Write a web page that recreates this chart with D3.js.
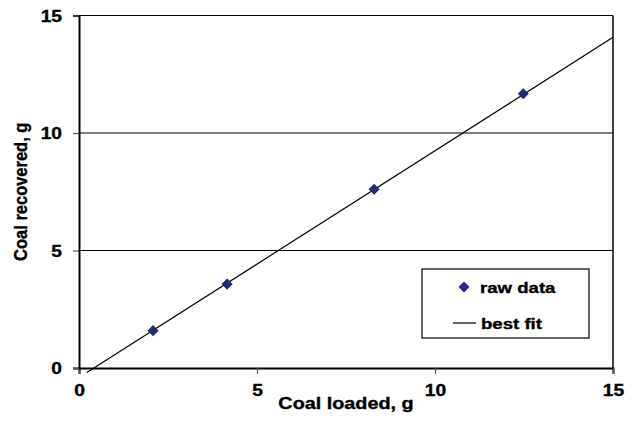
<!DOCTYPE html>
<html lang="en">
    <head>
        <meta charset="utf-8">
        <title>Coal recovered vs loaded</title>
        <script type="text/javascript" src="https://d3js.org/d3.v7.min.js"></script>
        <style type="text/css">
            body { margin: 0; background: #fff; }
            text { font-family: "Liberation Sans", Arial, sans-serif; font-weight: bold; fill: #000;
                   stroke: #000; stroke-width: 0.35px; }
        </style>
    </head>
    <body>
        <script type="text/javascript">

            // raw data points
            var loaded    = [2.08, 4.16, 8.29, 12.48];
            var recovered = [1.59, 3.57, 7.61, 11.67];

            // best fit line end points
            var fitX = [0.22, 15];
            var fitY = [-0.19, 14.07];

            var xTicks = [0, 5, 10, 15];
            var yTicks = [0, 5, 10, 15];

            var w = 637, h = 432;
            var mLeft = 79, mRight = 613, mTop = 15.5, mBottom = 368;
            var stretch = 1.2; // the original text looks wider than normal

            var svg = d3.select("body").append("svg")
                .attr("width", w)
                .attr("height", h);

            var xScale = d3.scaleLinear().domain([0, 15]).range([mLeft, mRight]);
            var yScale = d3.scaleLinear().domain([0, 15]).range([mBottom, mTop]);

            // gridlines (top one doubles as border)
            svg.selectAll("line.grid")
                .data(yTicks.filter(function(d){ return d > 0; }))
                .enter()
                .append("line")
                .attr("class", "grid")
                .attr("x1", mLeft).attr("x2", mRight)
                .attr("y1", function(d){ return yScale(d); })
                .attr("y2", function(d){ return yScale(d); })
                .attr("stroke", "#000")
                .attr("stroke-width", 1.2);

            // right border
            svg.append("line")
                .attr("x1", mRight).attr("x2", mRight)
                .attr("y1", mTop).attr("y2", mBottom)
                .attr("stroke", "#000").attr("stroke-width", 1.5);

            // axes
            var xAxis = d3.axisBottom(xScale).tickValues(xTicks).tickSize(6).tickPadding(11);
            var yAxis = d3.axisLeft(yScale).tickValues(yTicks).tickSize(6);

            var gx = svg.append("g")
                .attr("class", "x axis")
                .attr("transform", "translate(0," + mBottom + ")")
                .call(xAxis);
            var gy = svg.append("g")
                .attr("class", "y axis")
                .attr("transform", "translate(" + mLeft + ",0)")
                .call(yAxis);

            [gx, gy].forEach(function(g){
                g.attr("font-size", null).attr("font-family", null);
                g.select(".domain").attr("stroke", "#000").attr("stroke-width", 2);
                g.selectAll(".tick line").attr("stroke", "#555").attr("stroke-width", 1.2);
                g.selectAll(".tick text")
                    .attr("font-size", 16)
                    .attr("fill", "#000")
                    .attr("transform", "scale(" + stretch + ",1)");
            });
            gy.selectAll(".tick text").attr("x", -17 / stretch).attr("dy", "0.36em");

            // best fit line
            var line = d3.line()
                .x(function(d){ return xScale(d[0]); })
                .y(function(d){ return yScale(d[1]); });
            svg.append("path")
                .datum(d3.zip(fitX, fitY))
                .attr("d", line)
                .attr("fill", "none")
                .attr("stroke", "#000")
                .attr("stroke-width", 1.2);

            // raw data diamonds
            var diamond = d3.symbol().type(d3.symbolDiamond2).size(78);
            svg.selectAll("path.pt")
                .data(d3.zip(loaded, recovered))
                .enter()
                .append("path")
                .attr("class", "pt")
                .attr("d", diamond)
                .attr("transform", function(d){
                    return "translate(" + xScale(d[0]) + "," + yScale(d[1]) + ")";
                })
                .attr("fill", "#1f2a78");

            // helper for stretched text
            function label(x, y, str, size, anchor) {
                return svg.append("text")
                    .attr("transform", "translate(" + x + "," + y + ") scale(" + stretch + ",1)")
                    .attr("text-anchor", anchor || "start")
                    .attr("font-size", size)
                    .text(str);
            }

            // axis titles
            label((mLeft + mRight) / 2, 409, "Coal loaded, g", 16.5, "middle");

            svg.append("text")
                .attr("transform", "translate(27," + ((mTop + mBottom) / 2) + ") rotate(-90) scale(1,1.15)")
                .attr("text-anchor", "middle")
                .attr("font-size", 16.5)
                .text("Coal recovered, g");

            // legend
            svg.append("rect")
                .attr("x", 422).attr("y", 269)
                .attr("width", 167).attr("height", 69)
                .attr("fill", "#fff")
                .attr("stroke", "#000")
                .attr("stroke-width", 1.2);
            svg.append("path")
                .attr("d", diamond)
                .attr("transform", "translate(464,287)")
                .attr("fill", "#1f2a78");
            label(480, 292.5, "raw data", 15.5);
            svg.append("line")
                .attr("x1", 453).attr("x2", 476)
                .attr("y1", 323).attr("y2", 323)
                .attr("stroke", "#000").attr("stroke-width", 1.2);
            label(481, 328.5, "best fit", 15.5);
        </script>
    </body>
</html>
